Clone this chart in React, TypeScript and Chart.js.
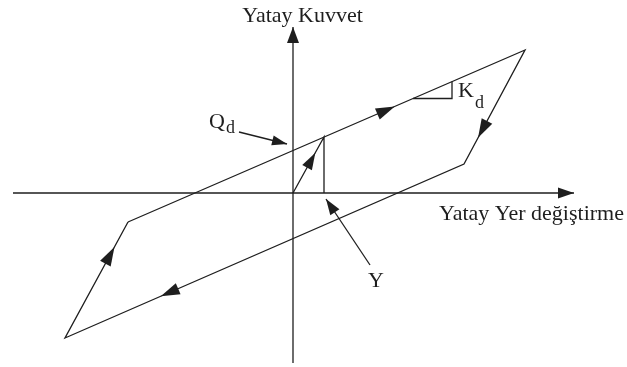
import React, { useEffect, useRef } from "react";
import { Chart, registerables } from "chart.js";

Chart.register(...registerables);

// Hysteresis loop (displacement, force) vertices
const loopX = [-16.5, 23.2, 17.1, -22.8, -16.5];
const loopY = [-2.9, 14.3, 2.9, -14.5, -2.9];
// initial elastic loading branch and yield marker
const initX = [0, 3.1, 3.1];
const initY = [0, 5.6, 0];
// axes
const hAxisX = [-28.0, 28.1];
const hAxisY = [0, 0];
const vAxisX = [0, 0];
const vAxisY = [-17.0, 16.6];
// Kd slope triangle
const kdX = [12.0, 15.9, 15.9];
const kdY = [9.45, 9.45, 11.14];
// pointers
const qdPtrX = [-5.4, -0.6];
const qdPtrY = [6.1, 4.9];
const yPtrX = [7.7, 3.3];
const yPtrY = [-7.2, -0.6];

// arrowheads on loop segments: [segment index, fraction of tip]
const loopArrowSeg = [0, 1, 2, 3];
const loopArrowT = [0.672, 0.77, 0.76, 0.785];
const initArrowT = 0.72;

// labels (main text, subscript)
const labelMain = ["Yatay Kuvvet", "Yatay Yer değiştirme", "Q", "K", "Y"];
const labelSub = ["", "", "d", "d", ""];
const labelX = [0.95, 14.6, -8.4, 16.5, 7.5];
const labelY = [17.1, -2.7, 6.5, 9.6, -9.4];
const subDrop = [0, 0, 0.45, 1.1, 0];

const INK = "#1e1e1e";
const FONT_MAIN = '22px "Liberation Serif", "Times New Roman", serif';
const FONT_SUB = '18px "Liberation Serif", "Times New Roman", serif';
const labelAlign: CanvasTextAlign[] = ["center", "left", "left", "left", "left"];

const pts = (xs: number[], ys: number[]) => xs.map((x, i) => ({ x, y: ys[i] }));

const line = (xs: number[], ys: number[]) => ({
  data: pts(xs, ys),
  showLine: true,
  borderColor: INK,
  borderWidth: 1.3,
  pointRadius: 0,
  fill: false,
  tension: 0,
});

export default function App() {
  const ref = useRef<HTMLCanvasElement | null>(null);

  useEffect(() => {
    document.body.style.margin = "0";
    document.body.style.overflow = "hidden";
    const canvas = ref.current;
    if (!canvas) return;

    const drawHead = (
      ctx: CanvasRenderingContext2D,
      tx: number,
      ty: number,
      dx: number,
      dy: number,
      len: number,
      hw: number
    ) => {
      const d = Math.hypot(dx, dy) || 1;
      const ux = dx / d;
      const uy = dy / d;
      const bx = tx - ux * len;
      const by = ty - uy * len;
      ctx.beginPath();
      ctx.moveTo(tx, ty);
      ctx.lineTo(bx - uy * hw, by + ux * hw);
      ctx.lineTo(bx + uy * hw, by - ux * hw);
      ctx.closePath();
      ctx.fill();
    };

    const overlay = {
      id: "overlay",
      afterDatasetsDraw(chart: any) {
        const { ctx, scales } = chart;
        const sx = (v: number) => scales.x.getPixelForValue(v);
        const sy = (v: number) => scales.y.getPixelForValue(v);
        ctx.save();
        ctx.fillStyle = INK;
        const segHead = (x1: number, y1: number, x2: number, y2: number, t: number, len: number, hw: number) => {
          const px1 = sx(x1), py1 = sy(y1), px2 = sx(x2), py2 = sy(y2);
          const tx = px1 + (px2 - px1) * t;
          const ty = py1 + (py2 - py1) * t;
          drawHead(ctx, tx, ty, px2 - px1, py2 - py1, len, hw);
        };
        loopArrowSeg.forEach((s, i) => {
          segHead(loopX[s], loopY[s], loopX[s + 1], loopY[s + 1], loopArrowT[i], 19, 6);
        });
        segHead(initX[0], initY[0], initX[1], initY[1], initArrowT, 17, 5.5);
        // axis arrows
        segHead(hAxisX[0], hAxisY[0], hAxisX[1], hAxisY[1], 1, 16, 5.5);
        segHead(vAxisX[0], vAxisY[0], vAxisX[1], vAxisY[1], 1, 16, 6);
        // pointer arrows
        segHead(qdPtrX[0], qdPtrY[0], qdPtrX[1], qdPtrY[1], 1, 15, 5);
        segHead(yPtrX[0], yPtrY[0], yPtrX[1], yPtrY[1], 1, 16, 5.5);
        // labels
        ctx.textBaseline = "alphabetic";
        labelMain.forEach((t, i) => {
          ctx.font = FONT_MAIN;
          ctx.textAlign = labelAlign[i];
          const px = sx(labelX[i]);
          const py = sy(labelY[i]);
          ctx.fillText(t, px, py);
          if (labelSub[i]) {
            const w = ctx.measureText(t).width;
            ctx.font = FONT_SUB;
            ctx.textAlign = "left";
            ctx.fillText(labelSub[i], px + w + 1, sy(labelY[i] - subDrop[i]));
          }
        });
        ctx.restore();
      },
    };

    const chart = new Chart(canvas, {
      type: "scatter",
      data: {
        datasets: [
          line(loopX, loopY),
          line(initX, initY),
          line(hAxisX, hAxisY),
          line(vAxisX, vAxisY),
          line(kdX, kdY),
          line(qdPtrX, qdPtrY),
          line(yPtrX, yPtrY),
        ] as any,
      },
      options: {
        animation: false,
        responsive: false,
        layout: { padding: 0 },
        plugins: { legend: { display: false }, tooltip: { enabled: false } },
        events: [],
        scales: {
          x: { type: "linear", min: -29.3, max: 33.4, display: false },
          y: { type: "linear", min: -17.4, max: 19.3, display: false },
        },
      },
      plugins: [overlay],
    });
    return () => chart.destroy();
  }, []);

  return (
    <div style={{ width: 627, height: 367, background: "#fff" }}>
      <canvas ref={ref} width={627} height={367} style={{ display: "block" }} />
    </div>
  );
}
